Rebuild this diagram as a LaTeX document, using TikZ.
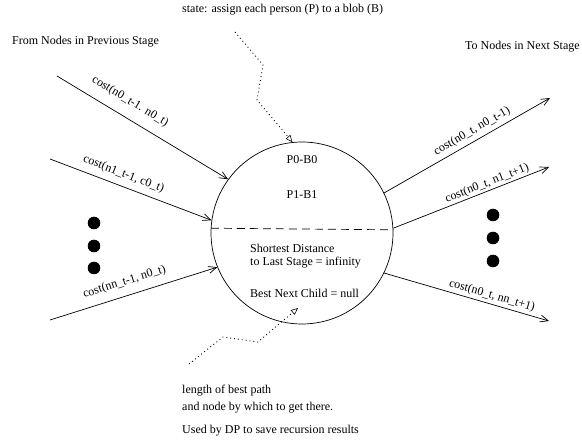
\documentclass[tikz,border=0pt]{standalone}
\usepackage{fontspec}
\setmainfont{Liberation Serif}
\usetikzlibrary{arrows.meta}
\begin{document}
\begin{tikzpicture}[x=1pt,y=1pt,
  font=\fontsize{12}{14}\selectfont,
  every node/.style={inner sep=0pt},
  edge/.style={line width=0.7pt,-{Straight Barb[length=8pt,width=7pt]}},
  note/.style={line width=0.9pt,dash pattern=on 0.9pt off 3pt,
    -{Triangle[open,length=7pt,width=6pt,line width=0.6pt]}},
  lbl/.style={sloped,above=#1},
  blob/.style={fill=black,circle,minimum size=12.6pt},
  txt/.style={anchor=west}]
\useasboundingbox (0,0) rectangle (582,-441);

% state node
\node[circle,draw,line width=0.7pt,minimum size=182pt] (c) at (302,-233) {};
\draw[line width=0.7pt,dash pattern=on 8pt off 5pt] (c.177.3) -- (c.2.7);
\node (p0) at (302,-160) {P0-B0};
\node (p1) at (302,-195) {P1-B1};
\node[txt] (sd1) at (250,-248) {Shortest Distance};
\node[txt] (sd2) at (250,-263) {to Last Stage = infinity};
\node[txt] (bn) at (250,-293) {Best Next Child = null};

% headings and notes
\node[txt] (state) at (182,-10) {state: assign each person (P) to a blob (B)};
\node[txt] (prev) at (12,-42) {From Nodes in Previous Stage};
\node[txt] (next) at (465,-47) {To Nodes in Next Stage};
\node[txt] (len1) at (182,-391) {length of best path};
\node[txt] (len2) at (182,-408) {and node by which to get there.};
\node[txt] (used) at (182,-431) {Used by DP to save recursion results};

% incoming edges
\coordinate (i0) at (57,-76);
\coordinate (i1) at (50,-159);
\coordinate (i2) at (50,-320);
\draw[edge] (i0) -- node[lbl=10pt,pos=0.38] {cost(n0\_t-1. n0\_t)} (c.144);
\draw[edge] (i1) -- node[lbl=6pt,pos=0.43] {cost(n1\_t-1, c0\_t)} (c.172.3);
\draw[edge] (i2) -- node[lbl=8pt,pos=0.47] {cost(nn\_t-1, n0\_t)} (c.202.4);

% outgoing edges
\coordinate (o0) at (550,-98);
\coordinate (o1) at (549,-167);
\coordinate (o2) at (549,-321);
\draw[edge] (c.26.6) -- node[lbl=4pt,pos=0.56] {cost(n0\_t, n0\_t-1)} (o0);
\draw[edge] (c.3) -- node[lbl=1.5pt,pos=0.62] {cost(n0\_t, n1\_t+1)} (o1);
\draw[edge] (c.-26) -- node[lbl=2.5pt,pos=0.64] {cost(n0\_t, nn\_t+1)} (o2);

% ellipsis dots
\node[blob] (l1) at (94,-223) {};
\node[blob] (l2) at (94,-246) {};
\node[blob] (l3) at (94,-268) {};
\node[blob] (r1) at (493,-215) {};
\node[blob] (r2) at (493,-238) {};
\node[blob] (r3) at (493,-261) {};

% dotted pointers
\coordinate (t0) at (235,-32);
\draw[note] (t0) -- (263,-65) -- (257,-100) -- (c.96.7);
\coordinate (b0) at (189,-364);
\coordinate (b1) at (298,-308);
\draw[note] (b0) -- (223,-337) -- (258,-342) -- (b1);
\end{tikzpicture}
\end{document}
